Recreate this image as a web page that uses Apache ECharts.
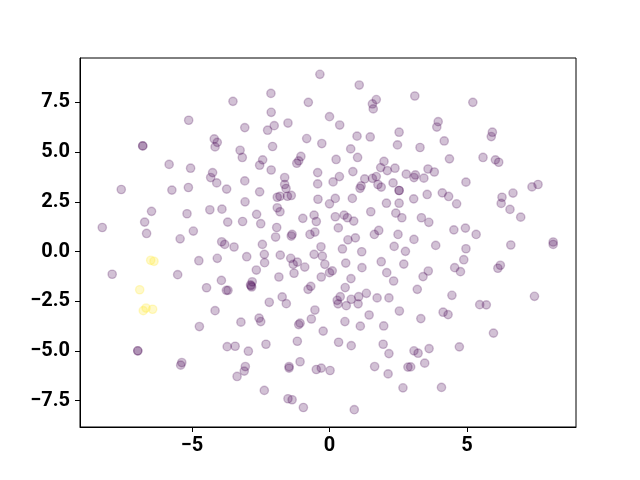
<!DOCTYPE html>
<html>
<head>
<meta charset="utf-8">
<script src="https://cdn.jsdelivr.net/npm/echarts@6/dist/echarts.min.js"></script>
<style>html,body{margin:0;padding:0;background:#fff}#c{width:640px;height:480px}</style>
</head>
<body>
<div id="c"></div>
<script>
// class 0 (purple) points [x, y]
const purplePoints = [
[-5.12,6.60],[-6.79,5.31],[-6.79,5.31],[-5.83,4.38],[-5.05,4.19],
[-0.35,8.91],[-2.13,7.95],[-3.51,7.55],[-0.77,7.50],[-2.12,7.00],[-3.08,6.23],[-2.25,6.10],[-2.01,6.33],[-1.51,6.46],[0.0,6.78],[-4.19,5.66],[-4.08,5.49],[-4.16,5.26],[-0.83,5.68],[-0.28,5.43],[-2.07,5.28],[-3.25,5.09],[-3.17,4.73],[-2.43,4.61],[-2.54,4.34],[-1.04,4.78],[-1.12,4.56],[-1.19,4.44],[-2.12,4.10],[-0.43,3.97],[-4.25,3.97],[-4.32,3.72],[-4.10,3.45],[-3.08,3.55],[-1.63,3.72],[-0.43,3.40],
[1.08,8.37],[1.70,7.64],[1.56,7.42],[1.59,7.17],[3.10,7.82],[0.37,6.36],[3.95,6.53],[3.90,6.26],[2.53,6.00],[1.00,5.80],[1.48,5.76],[4.17,5.56],[2.47,5.36],[3.29,5.23],[0.77,5.16],[0.24,4.63],[1.02,4.73],[4.36,4.66],[1.98,4.53],[1.86,4.22],[2.10,4.07],[2.38,4.19],[3.58,4.15],[3.81,4.00],[0.85,4.02],[0.36,3.77],[2.79,3.89],[3.12,3.85],[3.07,3.72],[3.43,3.69],[1.70,3.77],[0.13,3.50],[2.31,3.45],
[1.28,3.65],[1.56,3.68],[1.15,3.30],[1.11,3.18],[1.76,3.37],[1.88,3.24],
[5.21,7.50],[5.92,6.00],[5.88,5.78],[5.58,4.73],[6.03,4.61],[6.15,4.49],[4.96,3.49],[7.58,3.37],[7.36,3.25],
[0.21,2.67],[0.0,2.40],[0.83,2.67],[2.07,2.43],[2.53,3.07],[2.53,3.07],[2.53,2.43],[3.06,2.65],[3.55,2.87],[4.10,2.95],[4.33,2.77],[1.50,2.00],[2.41,1.93],[2.63,1.70],[3.34,1.70],[3.61,1.47],[0.21,1.75],[0.53,1.83],[0.65,1.70],[0.88,1.53],[0.32,1.19],[1.79,1.06],[1.63,0.86],[2.49,0.86],[3.07,0.61],[4.52,1.09],[0.94,0.69],[0.67,0.59],[0.47,0.13],[1.17,-0.01],[2.35,0.26],[2.76,0.01],[3.86,0.31],[0.59,-0.58],[1.88,-0.51],[2.70,-0.63],[1.18,-0.81],[0.10,-0.97],[0.0,-1.06],[2.08,-1.06],[3.59,-0.98],[3.40,-1.26],[4.55,-0.81],[4.76,-1.01],[0.78,-1.36],[2.33,-1.48],[0.57,-1.81],[1.34,-2.10],[3.19,-1.90],[4.45,-2.20],[0.39,-2.27],[0.28,-2.45],[0.79,-2.40],[1.06,-2.27],[1.73,-2.33],[2.16,-2.33],
[6.67,2.94],[6.27,2.73],[6.24,2.42],[4.62,2.40],[6.56,2.12],[6.95,1.73],[4.94,1.18],[5.33,0.86],[6.59,0.33],[8.13,0.48],[8.13,0.36],[4.96,0.14],[4.88,-0.41],[6.21,-0.69],[6.12,-0.84],[7.45,-2.25],[5.46,-2.67],[5.70,-2.68],
[4.13,-3.05],[4.31,-3.17],[5.96,-4.10],[4.72,-4.79],
[0.31,-2.63],[0.61,-2.72],[1.04,-2.63],[2.54,-2.99],[1.44,-3.19],[3.32,-3.37],[0.56,-3.52],[1.12,-3.75],[1.97,-3.74],[0.33,-4.56],[0.79,-4.73],[1.95,-4.66],[2.16,-5.13],[3.07,-4.99],[3.22,-5.11],[3.62,-4.88],[0.02,-5.98],[1.64,-5.78],[2.13,-6.15],[2.85,-5.81],[2.95,-5.80],[3.46,-5.61],[2.67,-6.85],[4.07,-6.83],[0.90,-7.95],[-0.23,-4.00],
[-2.19,-2.55],[-1.57,-2.62],[-4.16,-2.97],[-3.22,-3.55],[-2.56,-3.35],[-2.50,-3.52],[-0.53,-2.94],[-0.66,-3.39],[-1.07,-3.60],[-1.12,-3.67],[-1.17,-4.51],[-3.72,-4.78],[-3.43,-4.76],[-2.95,-5.01],[-2.31,-4.66],[-3.06,-5.78],[-3.10,-6.01],[-3.36,-6.28],[-1.47,-5.78],[-1.47,-5.86],[-1.07,-5.54],[-0.48,-5.93],[-0.30,-5.86],[-2.37,-6.98],[-1.51,-7.40],[-1.36,-7.45],[-0.95,-7.84],
[-4.73,-3.77],[-6.97,-4.99],[-6.97,-4.99],[-5.37,-5.58],[-5.41,-5.71],
[-7.57,3.12],[-5.73,3.09],[-5.13,3.22],[-6.47,2.02],[-5.18,1.90],[-6.72,1.48],[-8.26,1.21],[-6.65,0.91],[-4.95,1.03],[-5.43,0.64],[-4.75,-0.46],[-7.90,-1.14],[-5.52,-1.16],
[-4.47,-1.82],[-3.74,3.14],[-2.54,3.00],[-1.63,3.37],[-1.58,3.17],[-1.90,2.73],[-1.80,2.78],[-1.53,2.78],[-1.39,2.82],[-1.90,2.20],[-1.80,2.00],[-0.42,2.63],[-4.35,2.10],[-3.91,2.13],[-3.07,2.50],[-2.65,1.87],[-3.70,1.48],[-3.16,1.51],[-2.50,1.40],[-1.92,1.21],[-1.96,0.73],[-1.36,0.86],[-1.39,0.78],[-0.97,1.67],[-0.56,1.83],[-0.48,1.51],[-0.53,0.98],[-0.71,0.86],[-3.92,0.49],[-3.81,0.36],[-3.47,0.23],[-2.44,0.36],[-0.31,0.24],[-4.08,-0.34],[-3.01,-0.26],[-2.37,-0.14],[-2.36,-0.56],[-1.79,-0.18],[-1.41,-0.34],[-1.17,-0.53],[-1.32,-0.64],[-0.90,-0.78],[-0.56,-0.14],[-0.26,-0.23],[-0.17,-0.64],[-2.66,-0.93],[-1.29,-1.09],[-1.84,-1.28],[-0.30,-1.28],[-3.93,-1.45],[-3.75,-1.95],[-3.69,-1.95],[-2.87,-1.68],[-2.83,-1.78],[-2.85,-1.72],[-2.81,-1.52],[-1.72,-2.28],[-0.78,-1.90],[-0.68,-1.75]
];
// class 1 (yellow) points [x, y]
const yellowPoints = [[-6.50,-0.44],[-6.38,-0.49],[-6.90,-1.92],[-6.77,-2.97],[-6.67,-2.84],[-6.43,-2.90]];
const xTicks = [-5, 0, 5];
const yTicks = [-7.5, -5, -2.5, 0, 2.5, 5, 7.5];

const fmtMinus = v => (v < 0 ? '\u2212' : '') + Math.abs(v);
const fmtY = v => (v < 0 ? '\u2212' : '') + Math.abs(v).toFixed(1);
const labelStyle = {color: '#000', fontFamily: 'Roboto', fontWeight: 'bold', fontSize: 20};

const chart = echarts.init(document.getElementById('c'), null, {renderer: 'canvas'});
chart.setOption({
  animation: false,
  grid: {left: 80, right: 64, top: 58, bottom: 53, show: true, borderColor: '#000', borderWidth: 1, backgroundColor: 'transparent'},
  xAxis: {
    type: 'value', min: -9.07, max: 8.96,
    splitLine: {show: false},
    axisLine: {show: true, onZero: false, lineStyle: {color: '#000', width: 1}},
    axisTick: {show: true, length: 5, lineStyle: {color: '#000', width: 1}, customValues: xTicks},
    axisLabel: Object.assign({margin: 9, customValues: xTicks, formatter: fmtMinus}, labelStyle)
  },
  yAxis: {
    type: 'value', min: -8.82, max: 9.73,
    splitLine: {show: false},
    axisLine: {show: true, onZero: false, lineStyle: {color: '#000', width: 1}},
    axisTick: {show: true, length: 5, lineStyle: {color: '#000', width: 1}, customValues: yTicks},
    axisLabel: Object.assign({margin: 10, customValues: yTicks, formatter: fmtY}, labelStyle)
  },
  series: [
    {type: 'scatter', data: purplePoints, symbol: 'circle', symbolSize: 8.3,
     itemStyle: {color: 'rgba(68,1,84,0.3)', borderColor: 'rgba(68,1,84,0.3)', borderWidth: 1.4}},
    {type: 'scatter', data: yellowPoints, symbol: 'circle', symbolSize: 8.3,
     itemStyle: {color: 'rgba(253,231,37,0.3)', borderColor: 'rgba(253,231,37,0.3)', borderWidth: 1.4}}
  ]
});
</script>
</body>
</html>
